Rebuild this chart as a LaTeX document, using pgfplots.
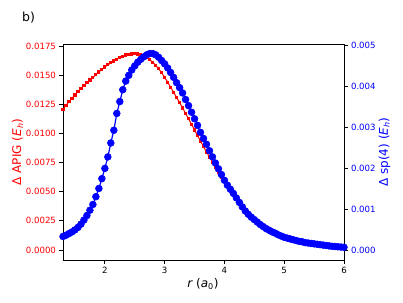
\documentclass[border=0pt]{standalone}
\usepackage{fontspec}
\setmainfont{DejaVu Sans}
\usepackage{pgfplots}
\usepackage{pgfplotstable}
\pgfplotsset{compat=1.18}
\pgfplotstableread{
r apig sp4
1.25 0.01175 0.00031
1.30 0.01207 0.00033
1.35 0.01240 0.00036
1.40 0.01272 0.00040
1.45 0.01302 0.00044
1.50 0.01330 0.00049
1.55 0.01357 0.00055
1.60 0.01383 0.00063
1.65 0.01409 0.00073
1.70 0.01434 0.00084
1.75 0.01458 0.00097
1.80 0.01481 0.00111
1.85 0.01504 0.00130
1.90 0.01527 0.00150
1.95 0.01549 0.00174
2.00 0.01569 0.00199
2.05 0.01588 0.00227
2.10 0.01605 0.00261
2.15 0.01621 0.00292
2.20 0.01637 0.00333
2.25 0.01651 0.00362
2.30 0.01663 0.00391
2.35 0.01672 0.00412
2.40 0.01678 0.00426
2.45 0.01682 0.00439
2.50 0.01684 0.00449
2.55 0.01682 0.00458
2.60 0.01675 0.00465
2.65 0.01663 0.00471
2.70 0.01650 0.00476
2.75 0.01632 0.00479
2.80 0.01610 0.00479
2.85 0.01584 0.00476
2.90 0.01554 0.00470
2.95 0.01520 0.00462
3.00 0.01481 0.00454
3.05 0.01440 0.00444
3.10 0.01397 0.00433
3.15 0.01353 0.00421
3.20 0.01309 0.00408
3.25 0.01264 0.00396
3.30 0.01218 0.00383
3.35 0.01172 0.00367
3.40 0.01125 0.00352
3.45 0.01078 0.00336
3.50 0.01030 0.00320
3.55 0.00982 0.00304
3.60 0.00934 0.00287
3.65 0.00887 0.00272
3.70 0.00841 0.00258
3.75 0.00797 0.00242
3.80 0.00753 0.00227
3.85 0.00710 0.00212
3.90 0.00667 0.00198
3.95 0.00625 0.00184
4.00 0.00584 0.00170
4.05 0.00545 0.00158
4.10 0.00508 0.00148
4.15 0.00475 0.00138
4.20 0.00438 0.00127
4.25 0.00400 0.00116
4.30 0.00362 0.00105
4.35 0.00328 0.00095
4.40 0.00300 0.00087
4.45 0.00275 0.00080
4.50 0.00253 0.00074
4.55 0.00233 0.00068
4.60 0.00214 0.00062
4.65 0.00196 0.00057
4.70 0.00180 0.00052
4.75 0.00165 0.00048
4.80 0.00151 0.00044
4.85 0.00139 0.00041
4.90 0.00127 0.00037
4.95 0.00116 0.00034
5.00 0.00106 0.00031
5.05 0.00098 0.00029
5.10 0.00091 0.00027
5.15 0.00084 0.00025
5.20 0.00077 0.00023
5.25 0.00071 0.00021
5.30 0.00066 0.00020
5.35 0.00061 0.00018
5.40 0.00057 0.00017
5.45 0.00053 0.00016
5.50 0.00049 0.00015
5.55 0.00045 0.00014
5.60 0.00042 0.00013
5.65 0.00039 0.00012
5.70 0.00036 0.00011
5.75 0.00033 0.00010
5.80 0.00030 0.000090
5.85 0.00028 0.000085
5.90 0.00026 0.000078
5.95 0.00024 0.000072
6.00 0.00022 0.000066
6.05 0.00020 0.000060
}\datatab
\begin{document}
\begin{tikzpicture}[x=1pt,y=1pt]
\path[use as bounding box] (0,0) rectangle (403,302);
\node at (28.5,284.5) {\fontsize{12.5}{14}\selectfont b)};
\begin{axis}[
  at={(63pt,42pt)}, anchor=south west,
  width=281pt, height=216pt, scale only axis,
  xmin=1.3, xmax=6, ymin=-0.00086, ymax=0.01767,
  xtick={2,3,4,5,6},
  ytick={0,0.0025,0.005,0.0075,0.01,0.0125,0.015,0.0175},
  scaled y ticks=false,
  yticklabel style={red,/pgf/number format/.cd,fixed,fixed zerofill,precision=4},
  /pgf/number format/assume math mode=true,
  tick align=outside, xtick pos=bottom, ytick pos=left,
  major tick length=3.5pt,
  tick style={black, line width=0.8pt},
  tick label style={font=\fontsize{8.6}{10}\selectfont},
  axis line style={line width=0.8pt},
  xlabel={{\itshape r} ({\itshape a}\textsubscript{0})},
  xlabel style={font=\fontsize{12}{14}\selectfont, at={(axis description cs:0.498,-0.111)}, anchor=center},
  ylabel={Δ APIG ({\itshape E}\textsubscript{\itshape h})},
  ylabel style={red, font=\fontsize{12}{14}\selectfont, at={(axis description cs:-0.162,0.5)}, anchor=center},
]
\addplot[red, line width=1pt, mark=square*, mark size=1.1pt] table[x=r,y=apig]{\datatab};
\end{axis}
\begin{axis}[
  at={(63pt,42pt)}, anchor=south west,
  width=281pt, height=216pt, scale only axis,
  xmin=1.3, xmax=6, ymin=-0.000244, ymax=0.005024,
  axis y line*=right, axis x line=none,
  ytick={0,0.001,0.002,0.003,0.004,0.005},
  scaled y ticks=false,
  yticklabel style={blue,/pgf/number format/.cd,fixed,fixed zerofill,precision=3},
  /pgf/number format/assume math mode=true,
  tick align=outside,
  major tick length=3.5pt,
  tick style={black, line width=0.8pt},
  tick label style={font=\fontsize{8.6}{10}\selectfont},
  axis line style={line width=0.8pt},
  ylabel={Δ sp(4) ({\itshape E}\textsubscript{\itshape h})},
  ylabel style={blue, font=\fontsize{12}{14}\selectfont, at={(axis description cs:1.144,0.5)}, anchor=center},
]
\addplot[blue, line width=1.2pt, mark=*, mark size=3.4pt, mark options={line width=0.6pt}] table[x=r,y=sp4]{\datatab};
\end{axis}
\end{tikzpicture}
\end{document}
